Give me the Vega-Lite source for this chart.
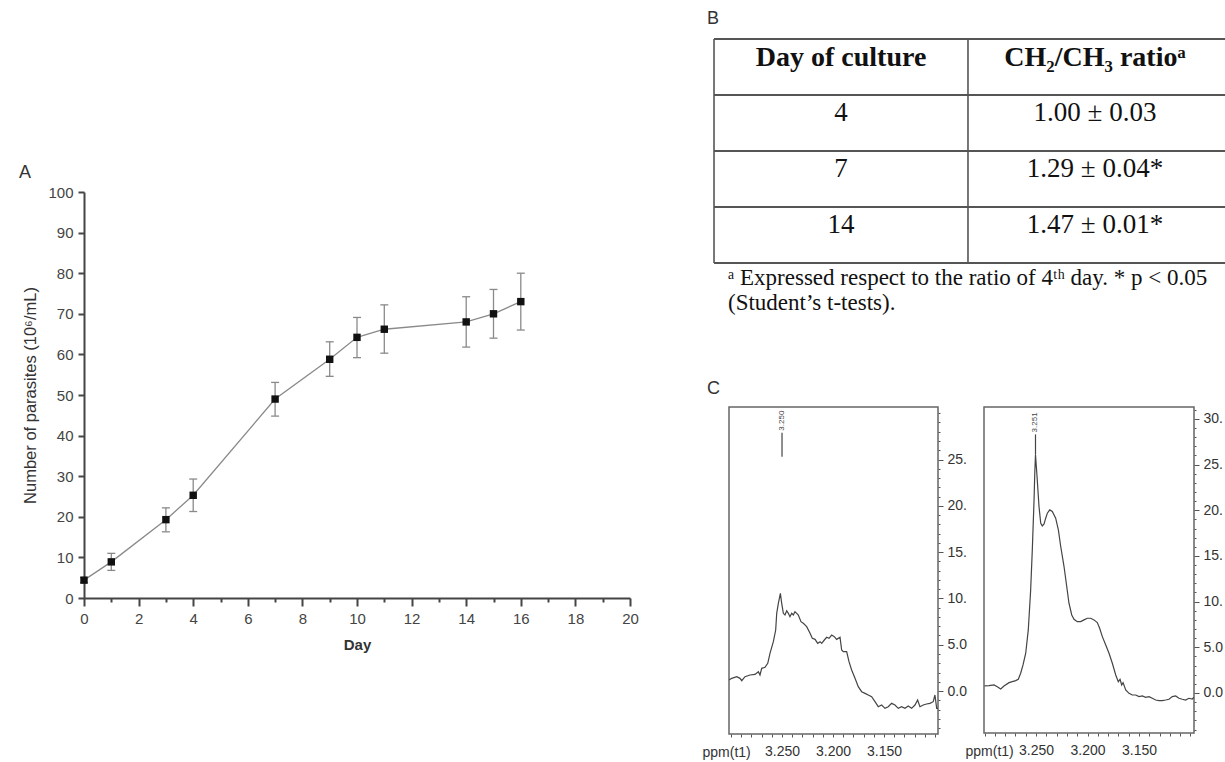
{
  "$schema": "https://vega.github.io/schema/vega-lite/v6.json",
  "background": "white",
  "padding": {"left": 19, "top": 10, "right": 0, "bottom": 0},
  "config": {
    "view": {"stroke": null},
    "font": "Liberation Sans",
    "axis": {"grid": false, "labelFont": "Liberation Sans", "titleFont": "Liberation Sans", "labelFlush": false, "labelOverlap": false},
    "title": {"font": "Liberation Sans", "fontWeight": "normal", "fontSize": 18, "color": "#333333", "anchor": "start", "frame": "group"}
  },
  "datasets": {
    "growth": [
      {"Day": 0, "Count": 4.4, "Lo": 3.8, "Hi": 5.0},
      {"Day": 1, "Count": 8.9, "Lo": 6.8, "Hi": 11.0},
      {"Day": 3, "Count": 19.3, "Lo": 16.3, "Hi": 22.2},
      {"Day": 4, "Count": 25.3, "Lo": 21.3, "Hi": 29.3},
      {"Day": 7, "Count": 49.0, "Lo": 44.8, "Hi": 53.1},
      {"Day": 9, "Count": 58.8, "Lo": 54.6, "Hi": 63.1},
      {"Day": 10, "Count": 64.2, "Lo": 59.2, "Hi": 69.1},
      {"Day": 11, "Count": 66.2, "Lo": 60.3, "Hi": 72.2},
      {"Day": 14, "Count": 68.0, "Lo": 61.8, "Hi": 74.2},
      {"Day": 15, "Count": 70.0, "Lo": 64.0, "Hi": 76.0},
      {"Day": 16, "Count": 73.0, "Lo": 66.0, "Hi": 80.0}
    ],
    "tableH": [{"pos": 0}, {"pos": 1}, {"pos": 2}, {"pos": 3}, {"pos": 4}],
    "tableV": [{"pos": 0, "top": 0, "bottom": 4}, {"pos": 1, "top": 0, "bottom": 4}],
    "tableText": [
      {"colIdx": 0, "row": "0", "kind": "head", "text": "Day of culture"},
      {"colIdx": 1, "row": "0", "kind": "head", "text": "CH₂/CH₃ ratioᵃ"},
      {"colIdx": 0, "row": "1", "kind": "cell", "text": "4"},
      {"colIdx": 1, "row": "1", "kind": "cell", "text": "1.00 ± 0.03"},
      {"colIdx": 0, "row": "2", "kind": "cell", "text": "7"},
      {"colIdx": 1, "row": "2", "kind": "cell", "text": "1.29 ± 0.04*"},
      {"colIdx": 0, "row": "3", "kind": "cell", "text": "14"},
      {"colIdx": 1, "row": "3", "kind": "cell", "text": "1.47 ± 0.01*"},
      {"colIdx": 0, "row": "4", "kind": "note", "text": "ᵃ Expressed respect to the ratio of 4ᵗʰ day. * p < 0.05\n(Student’s t-tests)."}
    ],
    "specLeft": [
      {"ppm": 3.3020, "intensity": 1.19}, {"ppm": 3.2993, "intensity": 1.37}, {"ppm": 3.2944, "intensity": 1.55},
      {"ppm": 3.2912, "intensity": 1.37}, {"ppm": 3.2895, "intensity": 1.12}, {"ppm": 3.2863, "intensity": 1.55},
      {"ppm": 3.2814, "intensity": 1.73}, {"ppm": 3.2765, "intensity": 1.80}, {"ppm": 3.2732, "intensity": 2.09},
      {"ppm": 3.2716, "intensity": 1.73}, {"ppm": 3.2699, "intensity": 2.45}, {"ppm": 3.2667, "intensity": 2.56},
      {"ppm": 3.2640, "intensity": 2.99}, {"ppm": 3.2618, "intensity": 4.07}, {"ppm": 3.2585, "intensity": 5.33},
      {"ppm": 3.2562, "intensity": 6.59}, {"ppm": 3.2552, "intensity": 8.39}, {"ppm": 3.2536, "intensity": 9.47},
      {"ppm": 3.2516, "intensity": 10.55}, {"ppm": 3.2503, "intensity": 9.47}, {"ppm": 3.2487, "intensity": 8.39},
      {"ppm": 3.2471, "intensity": 8.21}, {"ppm": 3.2454, "intensity": 8.67}, {"ppm": 3.2438, "intensity": 8.39},
      {"ppm": 3.2422, "intensity": 8.03}, {"ppm": 3.2405, "intensity": 8.39}, {"ppm": 3.2389, "intensity": 8.21},
      {"ppm": 3.2373, "intensity": 8.57}, {"ppm": 3.2356, "intensity": 8.39}, {"ppm": 3.2340, "intensity": 8.21},
      {"ppm": 3.2314, "intensity": 7.49}, {"ppm": 3.2291, "intensity": 7.31}, {"ppm": 3.2258, "intensity": 6.95},
      {"ppm": 3.2225, "intensity": 6.23}, {"ppm": 3.2203, "intensity": 5.69}, {"ppm": 3.2176, "intensity": 5.58},
      {"ppm": 3.2150, "intensity": 5.15}, {"ppm": 3.2127, "intensity": 5.33}, {"ppm": 3.2111, "intensity": 5.15},
      {"ppm": 3.2085, "intensity": 5.51}, {"ppm": 3.2062, "intensity": 5.80}, {"ppm": 3.2039, "intensity": 5.69},
      {"ppm": 3.2013, "intensity": 6.05}, {"ppm": 3.1987, "intensity": 5.87}, {"ppm": 3.1964, "intensity": 5.58},
      {"ppm": 3.1931, "intensity": 5.80}, {"ppm": 3.1915, "intensity": 4.43}, {"ppm": 3.1899, "intensity": 4.25},
      {"ppm": 3.1866, "intensity": 4.25}, {"ppm": 3.1843, "intensity": 3.17}, {"ppm": 3.1817, "intensity": 2.27},
      {"ppm": 3.1784, "intensity": 1.37}, {"ppm": 3.1752, "intensity": 0.47}, {"ppm": 3.1719, "intensity": -0.07},
      {"ppm": 3.1686, "intensity": -0.25}, {"ppm": 3.1654, "intensity": -0.43}, {"ppm": 3.1621, "intensity": -0.61},
      {"ppm": 3.1588, "intensity": -1.15}, {"ppm": 3.1556, "intensity": -1.69}, {"ppm": 3.1523, "intensity": -1.51},
      {"ppm": 3.1490, "intensity": -1.87}, {"ppm": 3.1458, "intensity": -1.69}, {"ppm": 3.1425, "intensity": -1.33},
      {"ppm": 3.1392, "intensity": -1.51}, {"ppm": 3.1360, "intensity": -1.87}, {"ppm": 3.1327, "intensity": -1.69},
      {"ppm": 3.1294, "intensity": -1.87}, {"ppm": 3.1262, "intensity": -1.62}, {"ppm": 3.1229, "intensity": -1.87},
      {"ppm": 3.1196, "intensity": -1.51}, {"ppm": 3.1170, "intensity": -0.97}, {"ppm": 3.1147, "intensity": -1.69},
      {"ppm": 3.1115, "intensity": -1.51}, {"ppm": 3.1082, "intensity": -1.40}, {"ppm": 3.1049, "intensity": -1.33},
      {"ppm": 3.1017, "intensity": -1.15}, {"ppm": 3.1000, "intensity": -0.43}, {"ppm": 3.0983, "intensity": -1.87},
      {"ppm": 3.0970, "intensity": -1.87}
    ],
    "specRight": [
      {"ppm": 3.3000, "intensity": 0.77}, {"ppm": 3.2956, "intensity": 0.80}, {"ppm": 3.2908, "intensity": 0.88},
      {"ppm": 3.2876, "intensity": 0.69}, {"ppm": 3.2843, "intensity": 0.44}, {"ppm": 3.2811, "intensity": 0.77},
      {"ppm": 3.2762, "intensity": 1.13}, {"ppm": 3.2730, "intensity": 1.24}, {"ppm": 3.2697, "intensity": 1.35},
      {"ppm": 3.2672, "intensity": 1.50}, {"ppm": 3.2649, "intensity": 2.16}, {"ppm": 3.2626, "intensity": 3.07},
      {"ppm": 3.2600, "intensity": 4.35}, {"ppm": 3.2575, "intensity": 6.90}, {"ppm": 3.2552, "intensity": 11.28},
      {"ppm": 3.2536, "intensity": 15.66}, {"ppm": 3.2519, "intensity": 21.14}, {"ppm": 3.2512, "intensity": 24.06},
      {"ppm": 3.2505, "intensity": 26.07}, {"ppm": 3.2490, "intensity": 23.69}, {"ppm": 3.2471, "intensity": 20.41},
      {"ppm": 3.2454, "intensity": 18.58}, {"ppm": 3.2439, "intensity": 18.29}, {"ppm": 3.2422, "intensity": 18.51},
      {"ppm": 3.2406, "intensity": 19.13}, {"ppm": 3.2390, "intensity": 19.68}, {"ppm": 3.2367, "intensity": 20.04},
      {"ppm": 3.2342, "intensity": 19.86}, {"ppm": 3.2309, "intensity": 19.13}, {"ppm": 3.2283, "intensity": 17.85},
      {"ppm": 3.2260, "intensity": 16.03}, {"ppm": 3.2228, "intensity": 13.84}, {"ppm": 3.2206, "intensity": 12.01},
      {"ppm": 3.2180, "intensity": 9.82}, {"ppm": 3.2153, "intensity": 8.54}, {"ppm": 3.2131, "intensity": 8.07},
      {"ppm": 3.2099, "intensity": 7.81}, {"ppm": 3.2066, "intensity": 7.81}, {"ppm": 3.2034, "intensity": 8.00},
      {"ppm": 3.2002, "intensity": 8.18}, {"ppm": 3.1969, "intensity": 8.18}, {"ppm": 3.1937, "intensity": 8.00},
      {"ppm": 3.1905, "intensity": 7.70}, {"ppm": 3.1882, "intensity": 7.09}, {"ppm": 3.1856, "intensity": 6.17},
      {"ppm": 3.1823, "intensity": 5.26}, {"ppm": 3.1791, "intensity": 4.35}, {"ppm": 3.1759, "intensity": 3.25},
      {"ppm": 3.1726, "intensity": 1.97}, {"ppm": 3.1701, "intensity": 1.24}, {"ppm": 3.1684, "intensity": 1.50},
      {"ppm": 3.1668, "intensity": 0.88}, {"ppm": 3.1655, "intensity": 1.13}, {"ppm": 3.1629, "intensity": 0.33},
      {"ppm": 3.1597, "intensity": -0.04}, {"ppm": 3.1565, "intensity": -0.22}, {"ppm": 3.1532, "intensity": -0.22},
      {"ppm": 3.1500, "intensity": -0.40}, {"ppm": 3.1468, "intensity": -0.33}, {"ppm": 3.1435, "intensity": -0.47},
      {"ppm": 3.1403, "intensity": -0.40}, {"ppm": 3.1371, "intensity": -0.58}, {"ppm": 3.1338, "intensity": -0.77},
      {"ppm": 3.1306, "intensity": -0.84}, {"ppm": 3.1274, "intensity": -0.84}, {"ppm": 3.1241, "intensity": -0.77},
      {"ppm": 3.1209, "intensity": -0.69}, {"ppm": 3.1177, "intensity": -0.40}, {"ppm": 3.1144, "intensity": -0.33},
      {"ppm": 3.1112, "intensity": -0.58}, {"ppm": 3.1080, "intensity": -0.69}, {"ppm": 3.1048, "intensity": -0.77},
      {"ppm": 3.1015, "intensity": -0.58}, {"ppm": 3.0983, "intensity": -0.66}, {"ppm": 3.0966, "intensity": -0.47}
    ],
    "peakLeft": [{"ppm": 3.250, "lo": 25.3, "hi": 27.9, "label": "3.250"}],
    "peakRight": [{"ppm": 3.2505, "lo": 26.07, "hi": 28.3, "label": "3.251"}]
  },
  "spacing": 62,
  "hconcat": [
    {
      "spacing": 0,
      "vconcat": [
        {"width": 10, "height": 125, "data": {"values": [{}]}, "mark": {"type": "point", "opacity": 0}},
        {
          "width": 546,
          "height": 406,
          "title": {"text": "A", "dx": -65, "offset": 3},
          "data": {"name": "growth"},
          "encoding": {
            "x": {
              "field": "Day", "type": "quantitative",
              "scale": {"domain": [0, 20], "nice": false},
              "axis": {
                "values": [0,1,2,3,4,5,6,7,8,9,10,11,12,13,14,15,16,17,18,19,20],
                "labelExpr": "datum.value % 2 === 0 ? datum.label : ''",
                "labelOverlap": false, "labelFlush": false,
                "tickSize": {"condition": {"test": "datum.value % 2 === 0", "value": 8}, "value": 4},
                "tickWidth": 2, "tickColor": "#444444", "domainColor": "#444444", "domainWidth": 2,
                "labelFontSize": 15, "labelColor": "#444444", "labelPadding": 5,
                "title": "Day", "titleFontSize": 15, "titleFontWeight": "bold", "titleColor": "#333333", "titlePadding": 11
              }
            }
          },
          "layer": [
            {
              "mark": {"type": "rule", "color": "#8a8a8a", "strokeWidth": 1.3},
              "encoding": {
                "y": {
                  "field": "Lo", "type": "quantitative",
                  "scale": {"domain": [0, 100], "nice": false},
                  "title": "Number of parasites (10⁶/mL)",
                  "axis": {
                    "values": [0,5,10,15,20,25,30,35,40,45,50,55,60,65,70,75,80,85,90,95,100],
                    "labelExpr": "datum.value % 10 === 0 ? datum.label : ''",
                    "labelOverlap": false, "labelFlush": false,
                    "tickSize": {"condition": {"test": "datum.value % 10 === 0", "value": 6}, "value": 3},
                    "tickWidth": 2, "tickColor": "#444444", "domainColor": "#444444", "domainWidth": 2,
                    "labelFontSize": 15, "labelColor": "#444444", "labelPadding": 5,
                    "titleFontSize": 16.5, "titleFontWeight": "normal", "titleColor": "#333333", "titlePadding": 9
                  }
                },
                "y2": {"field": "Hi"}
              }
            },
            {
              "mark": {"type": "tick", "orient": "horizontal", "size": 8, "thickness": 1.3, "color": "#8a8a8a", "opacity": 1},
              "encoding": {"y": {"field": "Lo", "type": "quantitative", "title": "Number of parasites (10⁶/mL)"}}
            },
            {
              "mark": {"type": "tick", "orient": "horizontal", "size": 8, "thickness": 1.3, "color": "#8a8a8a", "opacity": 1},
              "encoding": {"y": {"field": "Hi", "type": "quantitative", "title": "Number of parasites (10⁶/mL)"}}
            },
            {
              "mark": {"type": "line", "color": "#8a8a8a", "strokeWidth": 1.3},
              "encoding": {"y": {"field": "Count", "type": "quantitative", "title": "Number of parasites (10⁶/mL)"}}
            },
            {
              "mark": {"type": "point", "shape": "square", "filled": true, "color": "#111111", "opacity": 1, "size": 55},
              "encoding": {"y": {"field": "Count", "type": "quantitative", "title": "Number of parasites (10⁶/mL)"}}
            }
          ]
        }
      ]
    },
    {
      "spacing": 60,
      "vconcat": [
        {
          "width": 496,
          "height": 280,
          "title": {"text": "B", "dx": -22, "offset": 10},
          "layer": [
            {
              "data": {"name": "tableH"},
              "mark": {"type": "rule", "color": "#555555", "strokeWidth": 2},
              "encoding": {
                "x": {"datum": 0, "type": "quantitative", "scale": {"domain": [0.059, 2.012], "nice": false, "zero": false}, "axis": null},
                "x2": {"datum": 2.06},
                "y": {"field": "pos", "type": "quantitative", "scale": {"domain": [0, 5], "reverse": true, "nice": false, "zero": false}, "axis": null}
              }
            },
            {
              "data": {"name": "tableV"},
              "mark": {"type": "rule", "color": "#555555", "strokeWidth": 1.6},
              "encoding": {
                "x": {"field": "pos", "type": "quantitative", "scale": {"domain": [0.059, 2.012], "nice": false, "zero": false}, "axis": null},
                "y": {"field": "top", "type": "quantitative", "scale": {"domain": [0, 5], "reverse": true, "nice": false, "zero": false}, "axis": null},
                "y2": {"field": "bottom"}
              }
            },
            {
              "data": {"name": "tableText"},
              "transform": [{"filter": "datum.kind === 'head'"}],
              "mark": {"type": "text", "font": "Liberation Serif", "fontSize": 28, "fontWeight": "bold", "color": "#111111", "align": "center", "baseline": "middle", "dx": 127, "dy": -9},
              "encoding": {
                "x": {"field": "colIdx", "type": "quantitative", "scale": {"domain": [0.059, 2.012], "nice": false, "zero": false}, "axis": null},
                "y": {"field": "row", "type": "ordinal", "scale": {"domain": ["0", "1", "2", "3", "4"], "paddingInner": 0, "paddingOuter": 0}, "axis": null},
                "text": {"field": "text"}
              }
            },
            {
              "data": {"name": "tableText"},
              "transform": [{"filter": "datum.kind === 'cell'"}],
              "mark": {"type": "text", "font": "Liberation Serif", "fontSize": 27, "color": "#111111", "align": "center", "baseline": "middle", "dx": 127, "dy": -10},
              "encoding": {
                "x": {"field": "colIdx", "type": "quantitative", "scale": {"domain": [0.059, 2.012], "nice": false, "zero": false}, "axis": null},
                "y": {"field": "row", "type": "ordinal", "scale": {"domain": ["0", "1", "2", "3", "4"], "paddingInner": 0, "paddingOuter": 0}, "axis": null},
                "text": {"field": "text"}
              }
            },
            {
              "data": {"name": "tableText"},
              "transform": [{"filter": "datum.kind === 'note'"}],
              "mark": {"type": "text", "font": "Liberation Serif", "fontSize": 23, "color": "#111111", "baseline": "middle", "align": "left", "dx": 14, "dy": -13, "lineBreak": "\n", "lineHeight": 25},
              "encoding": {
                "x": {"field": "colIdx", "type": "quantitative", "scale": {"domain": [0.059, 2.012], "nice": false, "zero": false}, "axis": null},
                "y": {"field": "row", "type": "ordinal", "scale": {"domain": ["0", "1", "2", "3", "4"], "paddingInner": 0, "paddingOuter": 0}, "axis": null},
                "text": {"field": "text"}
              }
            }
          ],
          "resolve": {"scale": {"y": "independent"}}
        },
        {
          "spacing": -4,
          "hconcat": [
            {
              "width": 209,
              "height": 327,
              "title": {"text": "C", "dx": -22, "offset": 9},
              "view": {"stroke": "#666666", "strokeWidth": 1.5},
              "resolve": {"axis": {"x": "independent", "y": "independent"}},
              "layer": [
                {
                  "data": {"name": "specLeft"},
                  "mark": {"type": "line", "color": "#444444", "strokeWidth": 1.2, "clip": true},
                  "encoding": {
                    "x": {
                      "field": "ppm", "type": "quantitative",
                      "scale": {"domain": [3.097, 3.302], "reverse": true, "nice": false, "zero": false},
                      "axis": {
                        "orient": "bottom", "offset": 0,
                        "values": [3.15, 3.2, 3.25],
                        "format": ".3f",
                        "labelOverlap": false, "labelFlush": false,
                        "tickSize": 3, "tickColor": "#555555", "tickWidth": 1, "domain": false,
                        "labelFontSize": 14, "labelColor": "#333333", "labelPadding": 7,
                        "title": "ppm(t1)", "titleFontSize": 14, "titleFontWeight": "normal", "titleColor": "#333333",
                        "titleX": -27, "titleY": 18, "titleAlign": "left", "titleBaseline": "middle"
                      }
                    },
                    "y": {
                      "field": "intensity", "type": "quantitative",
                      "scale": {"domain": [-4.64, 30.67], "nice": false, "zero": false},
                      "axis": {
                        "orient": "right", "offset": 0,
                        "values": [0, 5, 10, 15, 20, 25],
                        "labelExpr": "datum.value >= 10 ? datum.value + '.' : format(datum.value, '.1f')",
                        "labelOverlap": false, "labelFlush": false,
                        "tickSize": 5, "tickColor": "#555555", "tickWidth": 1, "domain": false,
                        "labelFontSize": 14, "labelColor": "#333333", "labelPadding": 4, "title": null
                      }
                    }
                  }
                },
                {
                  "data": {"name": "peakLeft"},
                  "mark": {"type": "rule", "color": "#444444", "strokeWidth": 1.2},
                  "encoding": {
                    "x": {
                      "field": "ppm", "type": "quantitative",
                      "axis": {"orient": "bottom", "offset": 0, "values": [3.10,3.11,3.12,3.13,3.14,3.16,3.17,3.18,3.19,3.21,3.22,3.23,3.24,3.26,3.27,3.28,3.29,3.30], "labels": false, "tickSize": 3, "tickColor": "#555555", "tickWidth": 1, "domain": false, "title": null}
                    },
                    "y": {
                      "field": "lo", "type": "quantitative",
                      "axis": {"orient": "right", "offset": 0, "values": [-4,-3,-2,-1,1,2,3,4,6,7,8,9,11,12,13,14,16,17,18,19,21,22,23,24,26,27,28,29,30], "labels": false, "tickSize": 2, "tickColor": "#555555", "tickWidth": 1, "domain": false, "title": null}
                    },
                    "y2": {"field": "hi"}
                  }
                },
                {
                  "data": {"name": "peakLeft"},
                  "mark": {"type": "text", "angle": 270, "align": "left", "baseline": "middle", "fontSize": 8, "dx": 2, "color": "#444444"},
                  "encoding": {
                    "x": {"field": "ppm", "type": "quantitative", "axis": null},
                    "y": {"field": "hi", "type": "quantitative", "axis": null},
                    "text": {"field": "label"}
                  }
                }
              ]
            },
            {
              "width": 210,
              "height": 326,
              "title": {"text": "C", "dx": 0, "offset": 9, "color": "transparent"},
              "view": {"stroke": "#666666", "strokeWidth": 1.5},
              "resolve": {"axis": {"x": "independent", "y": "independent"}},
              "layer": [
                {
                  "data": {"name": "specRight"},
                  "mark": {"type": "line", "color": "#444444", "strokeWidth": 1.2, "clip": true},
                  "encoding": {
                    "x": {
                      "field": "ppm", "type": "quantitative",
                      "scale": {"domain": [3.0966, 3.3005], "reverse": true, "nice": false, "zero": false},
                      "axis": {
                        "orient": "bottom", "offset": 0,
                        "values": [3.15, 3.2, 3.25],
                        "format": ".3f",
                        "labelOverlap": false, "labelFlush": false,
                        "tickSize": 3, "tickColor": "#555555", "tickWidth": 1, "domain": false,
                        "labelFontSize": 14, "labelColor": "#333333", "labelPadding": 7,
                        "title": "ppm(t1)", "titleFontSize": 14, "titleFontWeight": "normal", "titleColor": "#333333",
                        "titleX": -19, "titleY": 18, "titleAlign": "left", "titleBaseline": "middle"
                      }
                    },
                    "y": {
                      "field": "intensity", "type": "quantitative",
                      "scale": {"domain": [-4.38, 31.3], "nice": false, "zero": false},
                      "axis": {
                        "orient": "right", "offset": 0,
                        "values": [0, 5, 10, 15, 20, 25, 30],
                        "labelExpr": "datum.value >= 10 ? datum.value + '.' : format(datum.value, '.1f')",
                        "labelOverlap": false, "labelFlush": false,
                        "tickSize": 5, "tickColor": "#555555", "tickWidth": 1, "domain": false,
                        "labelFontSize": 14, "labelColor": "#333333", "labelPadding": 4, "title": null
                      }
                    }
                  }
                },
                {
                  "data": {"name": "peakRight"},
                  "mark": {"type": "rule", "color": "#444444", "strokeWidth": 1.2},
                  "encoding": {
                    "x": {
                      "field": "ppm", "type": "quantitative",
                      "axis": {"orient": "bottom", "offset": 0, "values": [3.10,3.11,3.12,3.13,3.14,3.16,3.17,3.18,3.19,3.21,3.22,3.23,3.24,3.26,3.27,3.28,3.29,3.30], "labels": false, "tickSize": 3, "tickColor": "#555555", "tickWidth": 1, "domain": false, "title": null}
                    },
                    "y": {
                      "field": "lo", "type": "quantitative",
                      "axis": {"orient": "right", "offset": 0, "values": [-4,-3,-2,-1,1,2,3,4,6,7,8,9,11,12,13,14,16,17,18,19,21,22,23,24,26,27,28,29,31], "labels": false, "tickSize": 2, "tickColor": "#555555", "tickWidth": 1, "domain": false, "title": null}
                    },
                    "y2": {"field": "hi"}
                  }
                },
                {
                  "data": {"name": "peakRight"},
                  "mark": {"type": "text", "angle": 270, "align": "left", "baseline": "middle", "fontSize": 8, "dx": 2, "color": "#444444"},
                  "encoding": {
                    "x": {"field": "ppm", "type": "quantitative", "axis": null},
                    "y": {"field": "hi", "type": "quantitative", "axis": null},
                    "text": {"field": "label"}
                  }
                }
              ]
            }
          ]
        }
      ]
    }
  ]
}
